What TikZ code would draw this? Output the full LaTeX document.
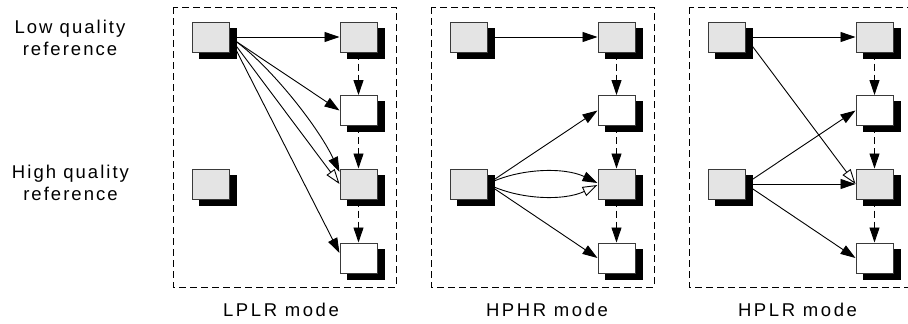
\documentclass[tikz,border=0pt]{standalone}
\usepackage{fontspec}
\setmainfont{Liberation Sans}[LetterSpace=11]
\newfontfamily\modefont{Liberation Sans}[LetterSpace=14]
\usetikzlibrary{arrows.meta,calc}
\definecolor{boxgray}{HTML}{E4E4E4}
\definecolor{edgegray}{HTML}{3A3A3A}
\pgfdeclarelayer{back}
\pgfdeclarelayer{mid}
\pgfsetlayers{back,mid,main}
\tikzset{
  frame/.style={draw=black, line width=0.9pt, dash pattern=on 7pt off 4pt},
  fbox/.style={draw=edgegray, line width=1pt, minimum width=37pt, minimum height=30pt, inner sep=0pt, fill=#1},
  link/.style={line width=0.9pt, -{Triangle[length=15pt,width=10pt]}},
  openlink/.style={line width=0.9pt, -{Triangle[open,fill=white,length=15pt,width=10pt]}},
  dlink/.style={link, dash pattern=on 7pt off 4pt},
  lab/.style={font=\fontsize{18.5}{22}\selectfont, align=center, inner sep=0pt, anchor=base},
  mlab/.style={font=\modefont\fontsize{18.5}{20}\selectfont, inner sep=0pt, anchor=base},
}
\begin{document}
\begin{tikzpicture}[x=1pt,y=-1pt]
\useasboundingbox (0,0) rectangle (908,324);
\clip (0,0) rectangle (908,324);
% labels
\node[lab] (lowq) at (70,55) {Low quality\\reference};
\node[lab] (highq) at (70.5,200) {High quality\\reference};
\node[mlab] (m1) at (281,316) {LPLR mode};
\node[mlab] (m2) at (547,316) {HPHR mode};
\node[mlab] (m3) at (797.5,316) {HPLR mode};
% boxes
\foreach \p/\o in {a/0,b/258,c/516}{
  \node[fbox=boxgray] (\p L1) at (210.5+\o,37) {};
  \node[fbox=boxgray] (\p L3) at (210.5+\o,184) {};
  \node[fbox=boxgray] (\p R1) at (358.5+\o,37) {};
  \node[fbox=white]   (\p R2) at (358.5+\o,110.5) {};
  \node[fbox=boxgray] (\p R3) at (358.5+\o,184) {};
  \node[fbox=white]   (\p R4) at (358.5+\o,258) {};
  \begin{pgfonlayer}{mid}
    \foreach \b in {L1,L3,R1,R2,R3,R4}{
      \fill[black] ([shift={(7.5,6)}]\p\b.north west) rectangle ([shift={(7.5,6)}]\p\b.south east);
    }
  \end{pgfonlayer}
  \begin{pgfonlayer}{back}
    \draw[frame] (173+\o,7) rectangle (396+\o,287);
    \draw[dlink] (\p R1.south) -- (\p R2.north);
    \draw[dlink] (\p R2.south) -- (\p R3.north);
    \draw[dlink] (\p R3.south) -- (\p R4.north);
  \end{pgfonlayer}
}
\begin{pgfonlayer}{back}
% LPLR
\draw[link] (aL1.east) -- (aR1.west);
\draw[link] (aL1.east) -- (aR2.west);
\draw[link] (aL1.east) .. controls +(36,23) and +(-22,-47) .. ([yshift=12pt]aR3.west);
\draw[openlink] (aL1.east) -- (aR3.west);
\draw[link] (aL1.east) -- ([yshift=5pt]aR4.west);
% HPHR
\draw[link] (bL1.east) -- (bR1.west);
\draw[link] (bL3.east) -- (bR2.west);
\draw[link] (bL3.east) .. controls +(32,-16) and +(-33,-16) .. ([yshift=1pt]bR3.west);
\draw[openlink] (bL3.east) .. controls +(32,16) and +(-33,16) .. ([yshift=-1pt]bR3.west);
\draw[link] (bL3.east) -- (bR4.west);
% HPLR
\draw[link] (cL1.east) -- (cR1.west);
\draw[openlink] (cL1.east) -- (cR3.west);
\draw[link] (cL3.east) -- (cR2.west);
\draw[link] (cL3.east) -- (cR3.west);
\draw[link] (cL3.east) -- (cR4.west);
\end{pgfonlayer}
\end{tikzpicture}
\end{document}
